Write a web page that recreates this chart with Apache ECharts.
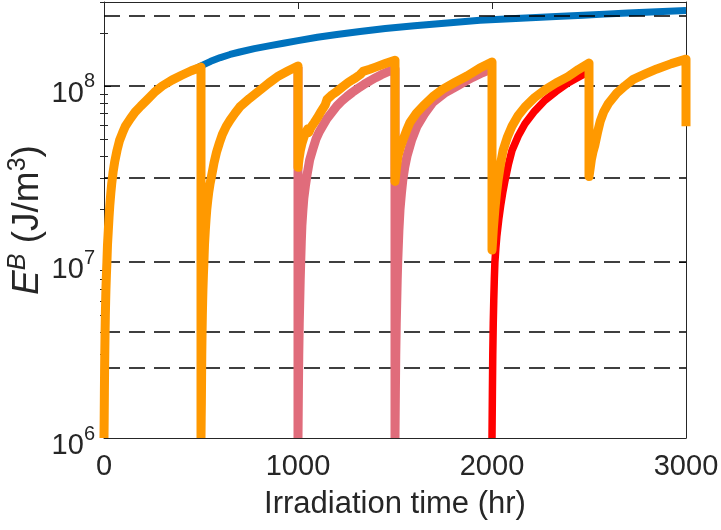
<!DOCTYPE html>
<html><head><meta charset="utf-8">
<script src="https://cdn.jsdelivr.net/npm/echarts@6/dist/echarts.min.js"></script>
<style>html,body{margin:0;padding:0;background:#fff}#c{width:721px;height:530px}</style>
</head><body><div id="c"></div>
<script>
// ---- data ----
const xTickLabels = [0, 1000, 2000, 3000];
const yMajorTicks = [1e6, 1e7, 1e8];
const yMinorTicks = [2e6,3e6,4e6,5e6,6e6,7e6,8e6,9e6,2e7,3e7,4e7,5e7,6e7,7e7,8e7,9e7,2e8,3e8];
const refLevels = [2.5e8, 1e8, 3e7, 1e7, 4e6, 2.5e6];

const blueTime = [0,1,2,3,4,5.5,7,8.5,10,12.5,15,18,22,26,30,35,40,47,55,67,80,95,110,135,160,190,220,260,300,350,400,450,500,
  550,600,650,700,775,850,925,1000,1100,1200,1320,1450,1600,1770,1938,2070,2200,2330,2470,2580,2700,2850,3000];
const blueEnergy = [1.0e6,1.3e6,1.8e6,2.4e6,3.0e6,4.0e6,5.0e6,6.0e6,7.0e6,8.5e6,1.0e7,1.25e7,1.5e7,1.8e7,2.1e7,2.45e7,2.8e7,3.25e7,3.7e7,4.3e7,4.9e7,5.4e7,5.9e7,6.5e7,7.1e7,7.7e7,8.3e7,9.2e7,1.0e8,1.08e8,1.15e8,1.22e8,1.3e8,
  1.38e8,1.45e8,1.51e8,1.56e8,1.63e8,1.69e8,1.75e8,1.81e8,1.89e8,1.96e8,2.04e8,2.12e8,2.2e8,2.28e8,2.36e8,2.40e8,2.44e8,2.48e8,2.52e8,2.56e8,2.6e8,2.64e8,2.68e8];

const pinkTime = [1000,1000,1000,
  1000,1002,1004,1006.5,1009,1011.5,1014,1017,1020,1025,1030,1038,1046,1060,1077,1093,1110,1130,1148,1175,1200,1225,1252,1280,1310,1340,1371,1400,1430,1465,1500,1500,1500,
  1500,1502,1504,1506.5,1509,1511.5,1514,1520,1526,1533,1540,1550,1562,1585,1613,1650,1696,1755,1820,1860,1900,1950,2000];
const pinkEnergy = [1.28e8,1.0e6,null,
  1.0e6,1.8e6,3.0e6,4.5e6,6.0e6,8.0e6,1.0e7,1.3e7,1.6e7,1.95e7,2.3e7,2.7e7,3.1e7,3.8e7,4.4e7,5.0e7,5.5e7,6.0e7,6.5e7,7.1e7,7.7e7,8.2e7,8.7e7,9.2e7,9.7e7,1.02e8,1.07e8,1.115e8,1.16e8,1.205e8,1.25e8,1.0e6,null,
  1.0e6,1.8e6,3.0e6,4.5e6,6.0e6,8.0e6,1.0e7,1.5e7,2.0e7,2.45e7,2.9e7,3.45e7,4.0e7,4.9e7,5.9e7,6.9e7,8.1e7,9.1e7,1.0e8,1.06e8,1.12e8,1.19e8,1.25e8];

const redTime = [2000,2002,2004,2006.5,2009,2012,2015,2020,2025,2035,2045,2056,2067,2085,2103,2135,2170,2220,2273,2330,2392,2445,2500];
const redEnergy = [1.0e6,1.8e6,3.0e6,4.5e6,6.0e6,8.0e6,1.0e7,1.2e7,1.4e7,1.75e7,2.1e7,2.5e7,2.9e7,3.6e7,4.3e7,5.2e7,6.1e7,7.2e7,8.3e7,9.3e7,1.04e8,1.12e8,1.21e8];

const orangeTime = [0,1,2,3,4,5.5,7,8.5,10,12.5,15,18,22,26,30,35,40,47,55,67,80,95,110,135,160,190,220,260,300,350,400,450,500,500,500,
  500,501,502,503,504,505.5,507,508.5,510,512.5,515,518,522,526,530,535,540,547,555,567,580,595,610,630,650,675,700,750,800,850,900,950,1000,
  1000,1006,1012,1020,1030,1040,1050,1056,1066,1084,1100,1120,1140,1150,1175,1200,1230,1260,1290,1320,1335,1370,1400,1450,1500,
  1500,1507,1515,1528,1543,1560,1577,1610,1645,1695,1747,1810,1871,1935,2000,
  2000,2007,2015,2023,2031,2044,2057,2080,2103,2135,2170,2220,2273,2330,2392,2445,2500,
  2500,2506,2512,2520,2530,2545,2558,2575,2600,2643,2685,2728,2790,2850,2925,3000,3000];
const orangeEnergy = [1.0e6,1.3e6,1.8e6,2.4e6,3.0e6,4.0e6,5.0e6,6.0e6,7.0e6,8.5e6,1.0e7,1.25e7,1.5e7,1.8e7,2.1e7,2.45e7,2.8e7,3.25e7,3.7e7,4.3e7,4.9e7,5.4e7,5.9e7,6.5e7,7.1e7,7.7e7,8.3e7,9.2e7,1.0e8,1.08e8,1.15e8,1.22e8,1.28e8,1.0e6,null,
  1.0e6,1.3e6,1.6e6,2.2e6,3.0e6,4.0e6,5.0e6,6.0e6,7.0e6,8.5e6,1.0e7,1.25e7,1.5e7,1.75e7,2.0e7,2.25e7,2.5e7,2.8e7,3.1e7,3.65e7,4.2e7,4.75e7,5.3e7,5.9e7,6.4e7,7.0e7,7.6e7,8.5e7,9.4e7,1.04e8,1.14e8,1.22e8,1.30e8,
  3.45e7,3.9e7,4.3e7,4.7e7,5.1e7,5.45e7,5.7e7,5.45e7,5.8e7,6.2e7,6.6e7,7.2e7,7.8e7,8.4e7,8.9e7,9.3e7,9.9e7,1.05e8,1.1e8,1.16e8,1.21e8,1.245e8,1.28e8,1.34e8,1.40e8,
  2.87e7,3.4e7,4.0e7,4.5e7,5.0e7,5.6e7,6.2e7,7.0e7,7.7e7,8.7e7,9.6e7,1.05e8,1.14e8,1.26e8,1.37e8,
  1.17e7,1.55e7,2.0e7,2.45e7,2.9e7,3.6e7,4.3e7,5.15e7,5.9e7,6.8e7,7.6e7,8.6e7,9.5e7,1.04e8,1.13e8,1.24e8,1.35e8,
  3.06e7,3.4e7,3.8e7,4.2e7,4.6e7,5.5e7,6.3e7,7.1e7,7.95e7,9.1e7,1.0e8,1.09e8,1.17e8,1.25e8,1.34e8,1.42e8,5.9e7];

// ---- build chart ----
const FONT = 'Liberation Sans';
const TXT = '#262626';
const zip = (t, e) => t.map((v, i) => [v, e[i] == null ? '-' : e[i]]);
const logMax = Math.log10(3e8), logMin = Math.log10(1e6);

function lineSeries(name, t, e, color, width, z) {
  return { name, type: 'line', data: zip(t, e), showSymbol: false, symbol: 'none',
    connectNulls: false, clip: false, z, silent: true, animation: false,
    lineStyle: { color, width, cap: 'butt', join: 'round' } };
}

const series = [lineSeries('blue', blueTime, blueEnergy, '#0072BD', 7, 2)];
refLevels.forEach(v => series.push({ type: 'line', data: [[0, v], [3000, v]], symbol: 'none',
  silent: true, animation: false, z: 3, clip: false,
  lineStyle: { color: '#000', width: 1.5, type: [16, 9] } }));
series.push(lineSeries('pink', pinkTime, pinkEnergy, '#E06C7B', 9, 4));
series.push(lineSeries('red', redTime, redEnergy, '#FF0000', 7.5, 5));
series.push(lineSeries('orange', orangeTime, orangeEnergy, '#FF9900', 9, 6));

const axisLine = { show: true, onZero: false, lineStyle: { color: TXT, width: 1 } };
const chart = echarts.init(document.getElementById('c'), null, { renderer: 'canvas' });
chart.setOption({
  backgroundColor: '#fff',
  animation: false,
  grid: { left: 104, right: 35, top: 2, bottom: 92, containLabel: false, outerBoundsMode: 'none' },
  xAxis: [
    { type: 'value', min: xTickLabels[0], max: xTickLabels[xTickLabels.length - 1], interval: 1000, position: 'bottom',
      axisLine, axisTick: { inside: true, length: 7, lineStyle: { color: TXT } },
      axisLabel: { fontSize: 29, color: TXT, fontFamily: FONT, margin: 14, formatter: v => String(v) },
      splitLine: { show: false },
      name: 'Irradiation time (hr)', nameLocation: 'middle', nameGap: 51, nameMoveOverlap: false,
      nameTextStyle: { fontSize: 31, color: TXT, fontFamily: FONT } },
    { type: 'value', min: 0, max: 3000, interval: 1000, position: 'top',
      axisLine, axisTick: { inside: true, length: 7, lineStyle: { color: TXT } },
      axisLabel: { show: false }, splitLine: { show: false } }
  ],
  yAxis: [
    { type: 'log', logBase: 10, min: 1e6, max: 3e8, position: 'left',
      axisLine, axisTick: { inside: true, length: 7, lineStyle: { color: TXT }, customValues: yMajorTicks },
      axisLabel: { margin: 9, color: TXT, fontFamily: FONT, customValues: yMajorTicks, padding: [16, 0, 0, 0],
        formatter: v => { const e = Math.round(Math.log10(v)); return Math.abs(Math.log10(v) - e) > 1e-6 ? '' : '{b|10}{s|' + e + '}'; },
        rich: { b: { fontSize: 29, color: TXT, fontFamily: FONT, lineHeight: 44 },
                s: { fontSize: 20, color: TXT, fontFamily: FONT, lineHeight: 18, verticalAlign: 'top' } } },
      splitLine: { show: false },
      name: '{i|E}{si|B}{n| (J/m}{s|3}{n|)}', nameLocation: 'middle', nameGap: 54, nameRotate: 90, nameMoveOverlap: false,
      nameTextStyle: { color: TXT, fontFamily: FONT, rich: {
        i: { fontSize: 37, fontStyle: 'italic', fontFamily: FONT, color: TXT, lineHeight: 44 },
        si: { fontSize: 25, fontStyle: 'italic', fontFamily: FONT, color: TXT, lineHeight: 22, verticalAlign: 'top' },
        n: { fontSize: 37, fontFamily: FONT, color: TXT, lineHeight: 44 },
        s: { fontSize: 25, fontFamily: FONT, color: TXT, lineHeight: 22, verticalAlign: 'top' } } } },
    { type: 'value', min: logMin, max: logMax, position: 'left',
      axisLine: { show: false }, axisTick: { inside: true, length: 4, lineStyle: { color: TXT }, customValues: yMinorTicks.map(Math.log10) },
      axisLabel: { show: false }, splitLine: { show: false } },
    { type: 'log', logBase: 10, min: 1e6, max: 3e8, position: 'right',
      axisLine, axisTick: { inside: true, length: 7, lineStyle: { color: TXT }, customValues: yMajorTicks },
      axisLabel: { show: false }, splitLine: { show: false } },
    { type: 'value', min: logMin, max: logMax, position: 'right',
      axisLine: { show: false }, axisTick: { inside: true, length: 4, lineStyle: { color: TXT }, customValues: yMinorTicks.map(Math.log10) },
      axisLabel: { show: false }, splitLine: { show: false } }
  ],
  series
});
</script></body></html>
